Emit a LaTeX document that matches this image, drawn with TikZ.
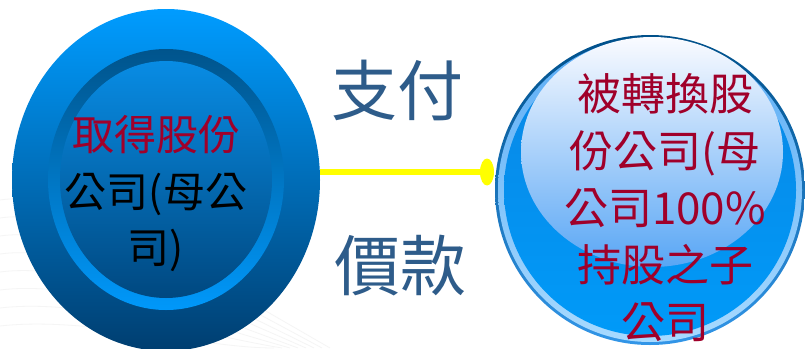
\documentclass[tikz,border=0pt]{standalone}
\usepackage{fontspec}
\newfontfamily\cjk{Noto Sans CJK TC}
\usetikzlibrary{shapes.geometric}
\definecolor{labelblue}{HTML}{2E5C8A}
\definecolor{txtred}{HTML}{A0002A}
\definecolor{linkyellow}{HTML}{FFFF00}
\begin{document}
\begin{tikzpicture}[x=1pt,y=-1pt,
  disk/.style={ellipse, inner sep=0pt, outer sep=0pt, draw=none},
  rdisk/.style={circle, inner sep=0pt, outer sep=0pt, draw=none},
  midlabel/.style={font=\cjk\fontsize{66}{70}\selectfont, text=labelblue, inner sep=0pt},
  lefttext/.style={font=\cjk\fontsize{42}{56.5}\selectfont, align=center, inner sep=0pt},
  righttext/.style={font=\cjk\fontsize{44}{57}\selectfont, align=center, text=txtred, inner sep=0pt},
  link/.style={draw=linkyellow, line width=6pt}
]
\useasboundingbox (0,0) rectangle (805,348);
\fill[white] (0,0) rectangle (805,348);
% faint background waves
\foreach \k in {0,...,7}{
  \draw[black!4, line width=0.8pt] (0,{200+18*\k}) .. controls ({60+4*\k},{190+18*\k}) and ({160+6*\k},{250+14*\k}) .. ({330-8*\k},348);
}
% left disk
\node[disk, minimum width=308pt, minimum height=342pt,
      top color={rgb,255:red,0;green,156;blue,255},
      bottom color={rgb,255:red,0;green,62;blue,112}] (L) at (166,180) {};
\node[disk, minimum width=236pt, minimum height=261pt, shading angle=40,
      top color={rgb,255:red,0;green,84;blue,140},
      bottom color={rgb,255:red,0;green,152;blue,250}] (Lring) at (166,179.5) {};
\node[disk, minimum width=212pt, minimum height=237pt, shading angle=40,
      top color={rgb,255:red,8;green,140;blue,228},
      bottom color={rgb,255:red,0;green,72;blue,128}] (Lin) at (166,179.5) {};
% right disk
\node[rdisk, minimum size=310pt,
      top color={rgb,255:red,0;green,80;blue,138},
      bottom color={rgb,255:red,50;green,150;blue,232}] (R) at (650,190) {};
\node[rdisk, minimum size=304pt,
      top color={rgb,255:red,90;green,172;blue,245},
      bottom color={rgb,255:red,168;green,218;blue,255}] (Rring) at (650,190) {};
\node[rdisk, minimum size=292pt,
      top color={rgb,255:red,10;green,134;blue,228},
      bottom color={rgb,255:red,0;green,154;blue,248}] (Rin) at (650,190) {};
\node[disk, minimum width=262pt, minimum height=230pt,
      top color={rgb,255:red,250;green,251;blue,255},
      bottom color={rgb,255:red,88;green,166;blue,245}] (Rhl) at (652,152) {};
% connector
\node[disk, fill=linkyellow, minimum width=14pt, minimum height=27pt] (D) at (487,172) {};
\draw[link] (L.east |- D) -- (D);
% texts
\node[lefttext] (LT) at (156,194) {{\color{txtred}取得股份}\\公司(母公\\司)};
\node[righttext] (RT) at (665,208) {被轉換股\\份公司(母\\公司100\%\\持股之子\\公司};
\node[midlabel] (pay1) at (397,90) {支付};
\node[midlabel] (pay2) at (400,266) {價款};
\end{tikzpicture}
\end{document}
